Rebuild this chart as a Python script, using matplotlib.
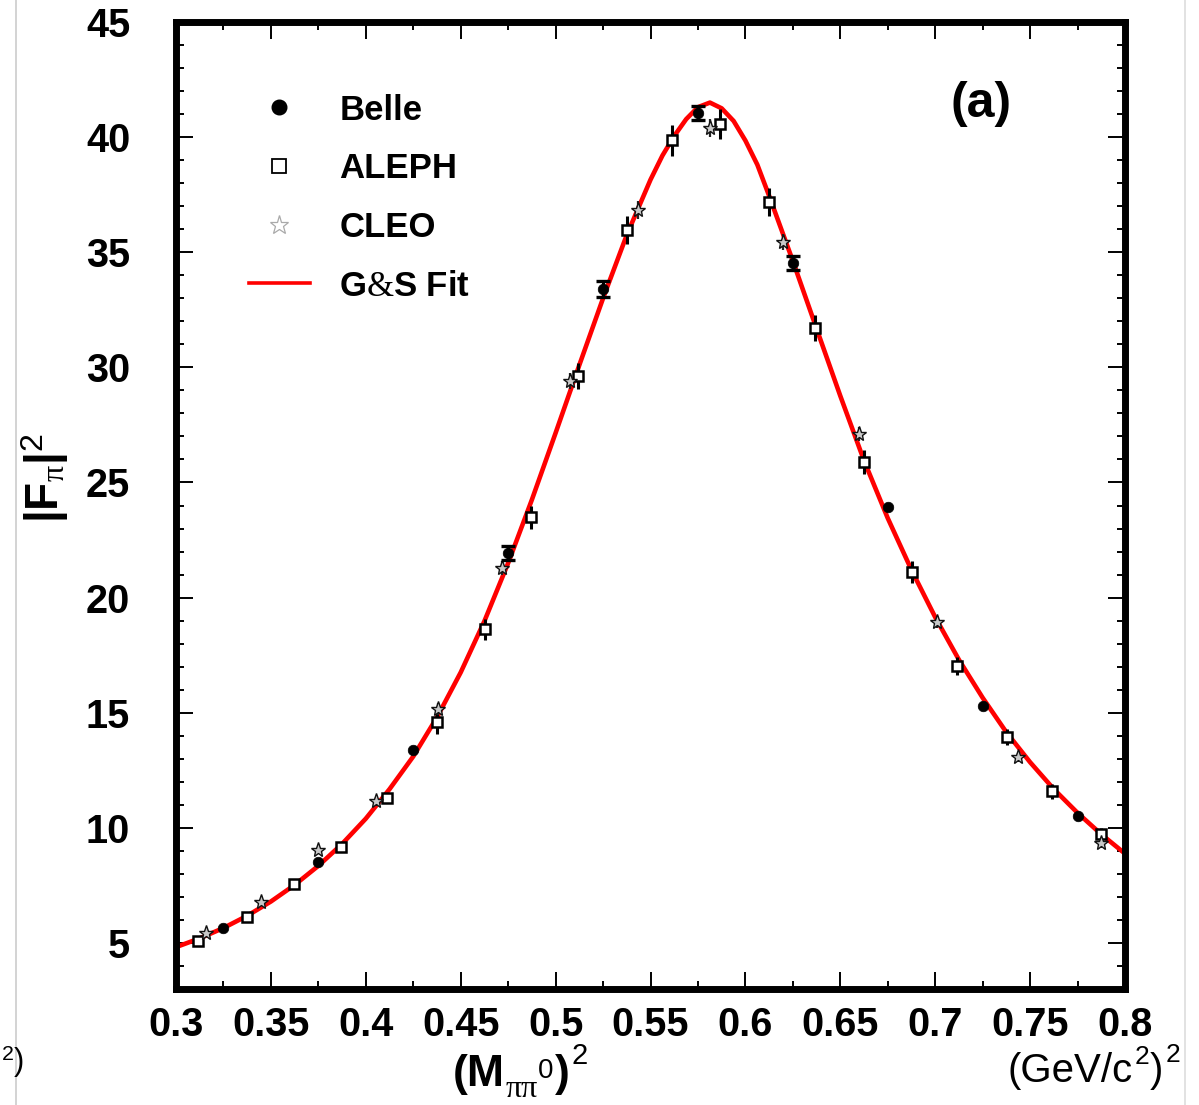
import matplotlib
matplotlib.use("Agg")
import matplotlib.pyplot as plt
from matplotlib.lines import Line2D
from matplotlib.ticker import MultipleLocator, FixedLocator
import numpy as np

plt.rcParams['font.family'] = ['Liberation Sans', 'DejaVu Sans']
plt.rcParams['mathtext.fontset'] = 'custom'
plt.rcParams['mathtext.rm'] = 'Liberation Serif'
plt.rcParams['mathtext.it'] = 'Liberation Serif:italic'
plt.rcParams['mathtext.bf'] = 'Liberation Sans:bold'
plt.rcParams['mathtext.sf'] = 'Liberation Sans'

# ---------------- data ----------------
belle_x = [0.325, 0.375, 0.425, 0.475, 0.525, 0.575, 0.625, 0.675, 0.725, 0.775]
belle_y = [5.64, 8.51, 13.38, 21.95, 33.4, 41.05, 34.53, 23.93, 15.29, 10.51]
belle_err = [0.08, 0.10, 0.15, 0.30, 0.33, 0.30, 0.30, 0.12, 0.10, 0.08]

aleph_x = [0.3116, 0.3374, 0.3622, 0.3869, 0.4112, 0.4375, 0.4628, 0.4872,
           0.5118, 0.5376, 0.5613, 0.5866, 0.6124, 0.6367, 0.6625, 0.6878,
           0.7115, 0.7378, 0.7615, 0.7873]
aleph_y = [5.08, 6.12, 7.55, 9.16, 11.29, 14.59, 18.62, 23.5,
           29.62, 35.96, 39.87, 40.57, 37.18, 31.71, 25.89, 21.11,
           17.02, 13.94, 11.59, 9.73]
aleph_err = [0.10, 0.12, 0.14, 0.16, 0.20, 0.50, 0.45, 0.50,
             0.57, 0.62, 0.67, 0.65, 0.62, 0.57, 0.53, 0.46,
             0.38, 0.34, 0.32, 0.27]

cleo_x = [0.3158, 0.3448, 0.3748, 0.4054, 0.4380, 0.4718, 0.5076, 0.5434,
          0.5813, 0.6198, 0.6598, 0.7009, 0.7436, 0.7873]
cleo_y = [5.43, 6.77, 9.03, 11.16, 15.16, 21.3, 29.40, 36.83,
          40.40, 35.44, 27.10, 18.94, 13.07, 9.33]
cleo_err = [0.10, 0.12, 0.15, 0.20, 0.25, 0.30, 0.35, 0.38,
            0.38, 0.36, 0.30, 0.25, 0.20, 0.20]

fit_x = [0.300, 0.3125, 0.325, 0.3375, 0.350, 0.3625, 0.375, 0.3875, 0.400,
         0.4125, 0.425, 0.4375, 0.450, 0.4625, 0.475, 0.4875, 0.500, 0.5125,
         0.525, 0.5375, 0.550, 0.5563, 0.5625, 0.5688, 0.575, 0.5813, 0.5875,
         0.5938, 0.600, 0.6063, 0.6125, 0.625, 0.6375, 0.650, 0.6625, 0.675,
         0.6875, 0.700, 0.7125, 0.725, 0.7375, 0.750, 0.7625, 0.775, 0.7875,
         0.800]
fit_y = [4.82, 5.20, 5.65, 6.18, 6.80, 7.52, 8.35, 9.30, 10.40,
         11.68, 13.10, 14.80, 16.75, 18.98, 21.50, 24.25, 27.15, 30.10,
         33.00, 35.75, 38.15, 39.20, 40.05, 40.78, 41.30, 41.50, 41.25,
         40.70, 39.85, 38.80, 37.45, 34.62, 31.68, 28.76, 25.95, 23.45,
         21.20, 19.15, 17.30, 15.65, 14.15, 12.85, 11.68, 10.65, 9.72,
         8.88]

x_ticks = [0.3, 0.35, 0.4, 0.45, 0.5, 0.55, 0.6, 0.65, 0.7, 0.75, 0.8]
x_ticklabels = ["0.3", "0.35", "0.4", "0.45", "0.5", "0.55", "0.6", "0.65", "0.7", "0.75", "0.8"]
y_ticks = [5, 10, 15, 20, 25, 30, 35, 40, 45]
y_ticklabels = ["5", "10", "15", "20", "25", "30", "35", "40", "45"]

# ---------------- figure ----------------
W, H = 1199, 1105
fig = plt.figure(figsize=(W / 100, H / 100), dpi=100)
ax = fig.add_axes([176 / W, 1 - 989 / H, 949 / W, 967 / H])

ax.plot(fit_x, fit_y, color='#ff0000', lw=3.3, zorder=2,
        solid_capstyle='butt', solid_joinstyle='round')

# ALEPH
ax.errorbar(aleph_x, aleph_y, yerr=aleph_err, fmt='none', ecolor='black',
            elinewidth=2.2, capsize=0, zorder=3)
ax.plot(aleph_x, aleph_y, ls='none', marker='s', ms=6.8, mfc='white',
        mec='black', mew=1.8, zorder=4)

# CLEO
ax.errorbar(cleo_x, cleo_y, yerr=cleo_err, fmt='none', ecolor='#222222',
            elinewidth=1.6, capsize=0, zorder=3)
ax.plot(cleo_x, cleo_y, ls='none', marker='*', ms=11, mfc='#c8c8c8',
        mec='#111111', mew=1.0, zorder=4)

# Belle
bx = np.array(belle_x); by = np.array(belle_y); be = np.array(belle_err)
big = be > 0.2
ax.errorbar(bx[big], by[big], yerr=be[big], fmt='none', ecolor='black',
            elinewidth=2.2, capsize=5.2, capthick=2.4, zorder=5)
ax.plot(belle_x, belle_y, ls='none', marker='o', ms=7.6, mfc='black',
        mec='black', mew=0.5, zorder=6)

ax.set_xlim(0.3, 0.8)
ax.set_ylim(3, 45)
ax.xaxis.set_major_locator(FixedLocator(x_ticks))
ax.set_xticklabels(x_ticklabels)
ax.xaxis.set_minor_locator(MultipleLocator(0.025))
ax.yaxis.set_major_locator(FixedLocator(y_ticks))
ax.set_yticklabels(y_ticklabels)
ax.yaxis.set_minor_locator(MultipleLocator(1))

for s in ax.spines.values():
    s.set_linewidth(5.0)
    s.set_color('black')
ax.tick_params(which='both', direction='in', top=True, right=True,
               color='black', width=1.4)
ax.tick_params(which='major', length=12)
ax.tick_params(which='minor', length=5.5)
ax.tick_params(axis='x', which='major', labelsize=28.5, pad=12)
ax.tick_params(axis='y', which='major', labelsize=28.5, pad=33)
for lab in ax.get_xticklabels() + ax.get_yticklabels():
    lab.set_fontweight('bold')

# legend
handles = [
    Line2D([], [], ls='none', marker='o', ms=10.5, mfc='black', mec='black'),
    Line2D([], [], ls='none', marker='s', ms=10.5, mfc='white', mec='black', mew=1.3),
    Line2D([], [], ls='none', marker='*', ms=14, mfc='white', mec='#aaaaaa', mew=0.9),
    Line2D([], [], color='#ff0000', lw=2.6),
]
labels = ["Belle", "ALEPH", "CLEO", r"G$\mathrm{&}$S Fit"]
leg = ax.legend(handles, labels, loc='upper left', bbox_to_anchor=(0.077, 0.926),
                frameon=False, borderpad=0, borderaxespad=0,
                handlelength=1.75, handletextpad=0.85, labelspacing=0.74,
                prop={'family': 'Liberation Sans', 'weight': 'bold', 'size': 25})

ax.text(0.848, 0.915, "(a)", transform=ax.transAxes, ha='center', va='center',
        fontsize=36, fontweight='bold')

# y title
fig.text(45 / W, 1 - 478 / H, r"$\mathbf{|F}_{\mathrm{\pi}}\mathbf{|}^{\mathsf{2}}$",
         rotation=90, ha='center', va='center', fontsize=33)


def chain(prev, s, base_y, gap=0, **kw):
    """Place text s right after artist prev, with its baseline at base_y (figure px from top)."""
    return ax.annotate(s, xy=(1, H - base_y), xycoords=(prev, 'figure pixels'),
                       xytext=(gap, 0), textcoords='offset pixels',
                       ha='left', va='baseline', annotation_clip=False, **kw)


# x title  (M_{pi pi^0})^2
t1 = fig.text(453 / W, 1 - 1086 / H, "(M", fontsize=32, fontweight='bold',
              ha='left', va='baseline')
t2 = chain(t1, "\u03c0\u03c0", 1097, gap=1, fontsize=23, family='Liberation Serif')
t3 = chain(t2, "0", 1078, gap=0, fontsize=20)
t4 = chain(t3, ")", 1086, gap=1, fontsize=32, fontweight='bold')
t5 = chain(t4, "2", 1064, gap=2, fontsize=21)

# unit label (GeV/c^2)^2
u1 = fig.text(1008 / W, 1 - 1082 / H, "(GeV/c", fontsize=29, ha='left', va='baseline')
u2 = chain(u1, "2", 1064, gap=1, fontsize=19)
u3 = chain(u2, ")", 1082, gap=1, fontsize=29)
u4 = chain(u3, "2", 1062, gap=2, fontsize=19)

# remnants of neighbouring panel / page edges
fig.add_artist(Line2D([16 / W, 16 / W], [0, 1], transform=fig.transFigure,
                      color='#cccccc', lw=1.2))
fig.add_artist(Line2D([1185 / W, 1185 / W], [0, 1], transform=fig.transFigure,
                      color='#dddddd', lw=1.2))
fig.text(1 / W, 1 - 1062 / H, r"$^{\mathsf{2}}$)", ha='left', va='center', fontsize=22)

fig.savefig("out.png", dpi=100)
